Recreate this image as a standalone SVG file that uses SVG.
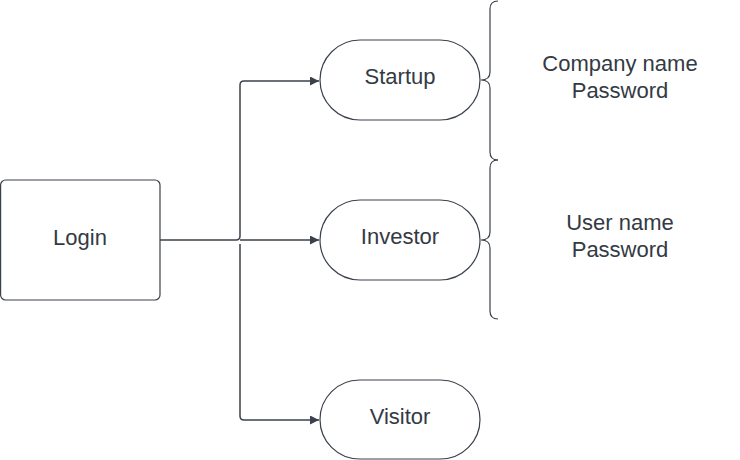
<svg xmlns="http://www.w3.org/2000/svg" width="740" height="460" viewBox="0 0 740 460">
<style>
.node{fill:#fff;stroke:#3a414a;stroke-width:1.2}
.lbl{font-family:"Liberation Sans",Arial,sans-serif;font-size:22px;fill:#333a44;text-anchor:middle;dominant-baseline:central}
.conn{fill:none;stroke:#3a414a;stroke-width:1.5}
.brace{fill:none;stroke:#3a414a;stroke-width:1.2}
</style>
<defs>
<marker id="arr" viewBox="0 0 10 10" refX="10" refY="5" markerWidth="15" markerHeight="9" markerUnits="userSpaceOnUse" orient="auto">
<path d="M0,0 L10,5 L0,10 Z" fill="#3a414a"/>
</marker>
</defs>
<g id="connectors">
<path class="conn" d="M160,240 H236 Q240,240 240,236 V85 Q240,81 244,81 H319" marker-end="url(#arr)"/>
<path class="conn" d="M240,240 H319" marker-end="url(#arr)"/>
<path class="conn" d="M240,244 V416 Q240,420 244,420 H319" marker-end="url(#arr)"/>
</g>
<g id="login"><rect class="node" x="0.6" y="180" width="159.4" height="120" rx="5"/><text class="lbl" x="80" y="237.5">Login</text></g>
<g id="startup"><rect class="node" x="320" y="40" width="160" height="80" rx="40"/><text class="lbl" x="400" y="76.5">Startup</text></g>
<g id="investor"><rect class="node" x="320" y="200" width="160" height="80" rx="40"/><text class="lbl" x="400" y="236.5">Investor</text></g>
<g id="visitor"><rect class="node" x="320" y="380" width="160" height="79" rx="39.5"/><text class="lbl" x="400" y="416.5">Visitor</text></g>
<g id="brace1"><path class="brace" d="M498,1 Q490,1 490,9 V72 Q490,80 481,80 Q490,80 490,88 V152 Q490,160 498,160"/></g>
<g id="brace2"><path class="brace" d="M498,160 Q490,160 490,168 V232 Q490,240 481,240 Q490,240 490,248 V311 Q490,319 498,319"/></g>
<g id="text1"><text class="lbl" x="620" y="63.5">Company name</text><text class="lbl" x="620" y="90.5">Password</text></g>
<g id="text2"><text class="lbl" x="620" y="222.5">User name</text><text class="lbl" x="620" y="249.5">Password</text></g>
</svg>
